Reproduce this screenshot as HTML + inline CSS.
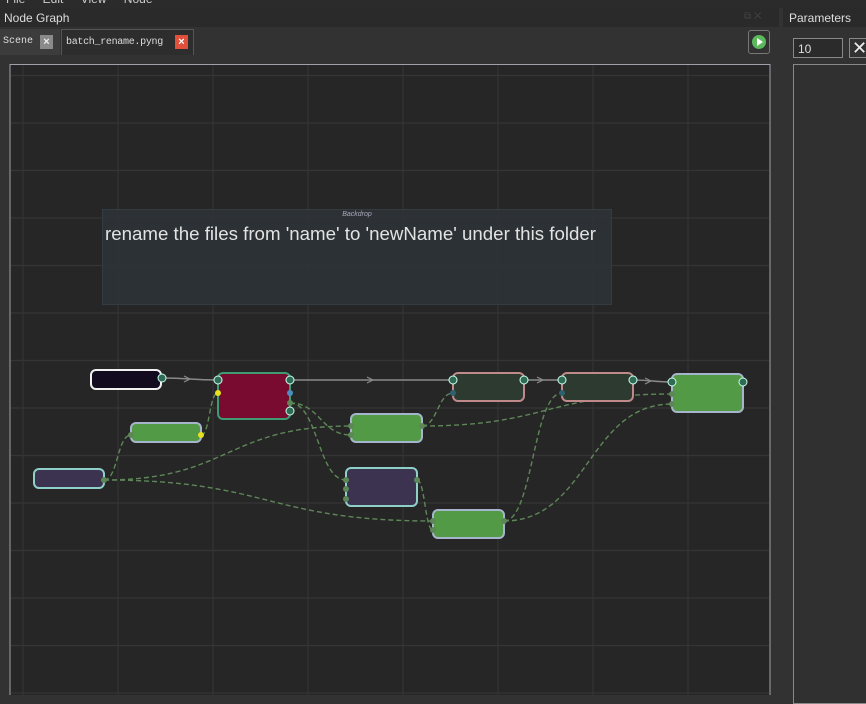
<!DOCTYPE html>
<html><head><meta charset="utf-8"><style>
*{margin:0;padding:0;box-sizing:border-box}
body{width:866px;height:695px;background:#323232;position:relative;overflow:hidden;font-family:"Liberation Sans",sans-serif;}
.abs{position:absolute}
</style></head><body>
<div class="abs" style="left:0;top:0;width:866px;height:8px;background:#2b2b2b"></div>
<div class="abs" style="left:6px;top:-8px;font-size:12px;color:#ccc;word-spacing:14px">File Edit View Node</div>
<div class="abs" style="left:0;top:8px;width:779px;height:19px;background:#2a2a2a"></div>
<div class="abs" style="left:4px;top:11px;font-size:12px;color:#ddd">Node Graph</div>
<div class="abs" style="left:744px;top:11px;font-size:10px;color:#444">⧉ ✕</div>
<div class="abs" style="left:783px;top:8px;width:83px;height:19px;background:#2a2a2a"></div>
<div class="abs" style="left:789px;top:11px;font-size:12px;color:#ddd">Parameters</div>
<div class="abs" style="left:0;top:29px;width:60px;height:26px;background:#3c3c3c"></div>
<div class="abs" style="left:3px;top:36px;font-size:10px;color:#ddd;font-family:'Liberation Mono',monospace">Scene</div>
<div class="abs" style="left:40px;top:35px;width:13px;height:14px;background:#8a8a8a;color:#eee;font-size:11px;text-align:center;line-height:14px;font-weight:bold">×</div>
<div class="abs" style="left:61px;top:29px;width:133px;height:26px;background:#2d2d2d;border:1px solid #555;border-bottom:none"></div>
<div class="abs" style="left:66px;top:37px;font-size:10px;letter-spacing:-0.3px;color:#ddd;font-family:'Liberation Mono',monospace">batch_rename.pyng</div>
<div class="abs" style="left:175px;top:35px;width:13px;height:14px;background:#e0503a;color:#fff;font-size:11px;text-align:center;line-height:14px;font-weight:bold">×</div>
<div class="abs" style="left:748px;top:30px;width:22px;height:24px;border:1px solid #777;border-radius:3px"></div>
<div class="abs" style="left:752px;top:35px;width:14px;height:14px;border-radius:50%;background:#5cb85c"></div>
<div class="abs" style="left:757px;top:38px;width:0;height:0;border-left:6px solid #fff;border-top:4px solid transparent;border-bottom:4px solid transparent"></div>
<div class="abs" style="left:793px;top:38px;width:50px;height:20px;border:1px solid #888;background:#2b2b2b;font-size:12px;color:#ddd;padding:3px 4px">10</div>
<div class="abs" style="left:849px;top:38px;width:20px;height:20px;border:1px solid #888;color:#eee;font-size:18px;line-height:18px;padding-left:2px">✕</div>
<div class="abs" style="left:793px;top:64px;width:80px;height:640px;border:1px solid #888;background:#303030"></div>
<svg class="abs" style="left:0;top:0" width="866" height="695">
<rect x="10" y="64.5" width="760" height="640" fill="#262626" stroke="#a0a0aa" stroke-width="1"/>
<g stroke="#353535" stroke-width="1.2">
<line x1="23" y1="65" x2="23" y2="695"/><line x1="118" y1="65" x2="118" y2="695"/><line x1="213" y1="65" x2="213" y2="695"/><line x1="308" y1="65" x2="308" y2="695"/><line x1="403" y1="65" x2="403" y2="695"/><line x1="498" y1="65" x2="498" y2="695"/><line x1="593" y1="65" x2="593" y2="695"/><line x1="688" y1="65" x2="688" y2="695"/>
<line x1="11" y1="75.5" x2="769" y2="75.5"/><line x1="11" y1="123" x2="769" y2="123"/><line x1="11" y1="170.5" x2="769" y2="170.5"/><line x1="11" y1="218" x2="769" y2="218"/><line x1="11" y1="265.5" x2="769" y2="265.5"/><line x1="11" y1="313" x2="769" y2="313"/><line x1="11" y1="360.5" x2="769" y2="360.5"/><line x1="11" y1="408" x2="769" y2="408"/><line x1="11" y1="455.5" x2="769" y2="455.5"/><line x1="11" y1="503" x2="769" y2="503"/><line x1="11" y1="550.5" x2="769" y2="550.5"/><line x1="11" y1="598" x2="769" y2="598"/><line x1="11" y1="645.5" x2="769" y2="645.5"/><line x1="11" y1="693" x2="769" y2="693"/>
</g>
<rect x="102.5" y="209.5" width="509" height="95" fill="#2d3337" fill-opacity="0.9" stroke="#343c42"/>
<text x="357" y="216" font-size="7" font-style="italic" fill="#aab" text-anchor="middle">Backdrop</text>
<text x="105" y="240" font-size="18" fill="#e2e2e2" textLength="491" lengthAdjust="spacingAndGlyphs">rename the files from 'name' to 'newName' under this folder</text>
<g fill="none" stroke="#8a8a8a" stroke-width="1.4">
<path d="M162 378 C190 378 190 380 218 380"/>
<line x1="290" y1="380" x2="453" y2="380"/>
<line x1="524" y1="380" x2="562" y2="380"/>
<path d="M633 380 C650 380 655 382 672 382"/>
</g>
<g fill="none" stroke="#8a8a8a" stroke-width="1.2">
<path d="M184 376 l6 3 -6 3"/><path d="M367 377 l6 3 -6 3"/><path d="M537 377 l6 3 -6 3"/><path d="M645 378 l6 3 -6 3"/>
</g>
<g fill="none" stroke="#5e8758" stroke-width="1.4" stroke-dasharray="5 3">
<path d="M104 480 C118 480 117 435 131 435"/>
<path d="M201 435 C210 435 209 393 218 393"/>
<path d="M104 480 C230 480 225 426 351 426"/>
<path d="M104 480 C270 480 267 521 433 521"/>
<path d="M290 403 C320 403 321 435 351 435"/>
<path d="M290 403 C318 403 318 480 346 480"/>
<path d="M417 480 C425 480 425 530 433 530"/>
<path d="M422 426 C437 426 438 393 453 393"/>
<path d="M422 426 C547 426 547 394 672 394"/>
<path d="M504 521 C533 521 533 393 562 393"/>
<path d="M504 521 C588 521 588 404 672 404"/>
</g>
<rect x="91" y="370" width="70" height="19" rx="5" fill="#120a1e" stroke="#f0f0f0" stroke-width="2"/>
<rect x="218" y="373" width="72" height="46" rx="5" fill="#790b31" stroke="#3e9b73" stroke-width="2"/>
<rect x="131" y="423" width="70" height="19" rx="5" fill="#529a45" stroke="#a6b5cc" stroke-width="2"/>
<rect x="34" y="469" width="70" height="19" rx="5" fill="#3c3350" stroke="#8ecfc8" stroke-width="2"/>
<rect x="351" y="414" width="71" height="28" rx="5" fill="#529a45" stroke="#a6b5cc" stroke-width="2"/>
<rect x="346" y="468" width="71" height="38" rx="5" fill="#3c3350" stroke="#8ecfc8" stroke-width="2"/>
<rect x="433" y="510" width="71" height="28" rx="5" fill="#529a45" stroke="#a6b5cc" stroke-width="2"/>
<rect x="453" y="373" width="71" height="28" rx="5" fill="#2d3a2f" stroke="#c08a8a" stroke-width="2"/>
<rect x="562" y="373" width="71" height="28" rx="5" fill="#2d3a2f" stroke="#c08a8a" stroke-width="2"/>
<rect x="672" y="374" width="71" height="38" rx="5" fill="#529a45" stroke="#a6b5cc" stroke-width="2"/>
<g fill="#2f6b55" stroke="#cfe" stroke-width="1">
<circle cx="162" cy="378" r="4"/><circle cx="218" cy="380" r="4"/><circle cx="290" cy="380" r="4"/><circle cx="290" cy="411" r="4"/>
<circle cx="453" cy="380" r="4"/><circle cx="524" cy="380" r="4"/><circle cx="562" cy="380" r="4"/><circle cx="633" cy="380" r="4"/><circle cx="672" cy="382" r="4"/><circle cx="743" cy="382" r="4"/>
</g>
<g fill="#5e8758">
<circle cx="104" cy="480" r="3"/><circle cx="131" cy="435" r="3"/><circle cx="351" cy="426" r="3"/><circle cx="351" cy="435" r="3"/><circle cx="422" cy="426" r="3"/>
<circle cx="346" cy="480" r="3"/><circle cx="346" cy="489" r="3"/><circle cx="346" cy="499" r="3"/><circle cx="417" cy="480" r="3"/>
<circle cx="433" cy="521" r="3"/><circle cx="433" cy="530" r="3"/><circle cx="504" cy="521" r="3"/><circle cx="290" cy="403" r="3"/>
<circle cx="453" cy="393" r="3" fill="#2f6070"/><circle cx="562" cy="393" r="3" fill="#2f6070"/><circle cx="672" cy="394" r="3"/><circle cx="672" cy="404" r="3"/>
</g>
<circle cx="201" cy="435" r="3" fill="#e8e020"/><circle cx="218" cy="393" r="3" fill="#e8e020"/><circle cx="290" cy="393" r="3" fill="#4a8fc0"/>
</svg>
</body></html>
